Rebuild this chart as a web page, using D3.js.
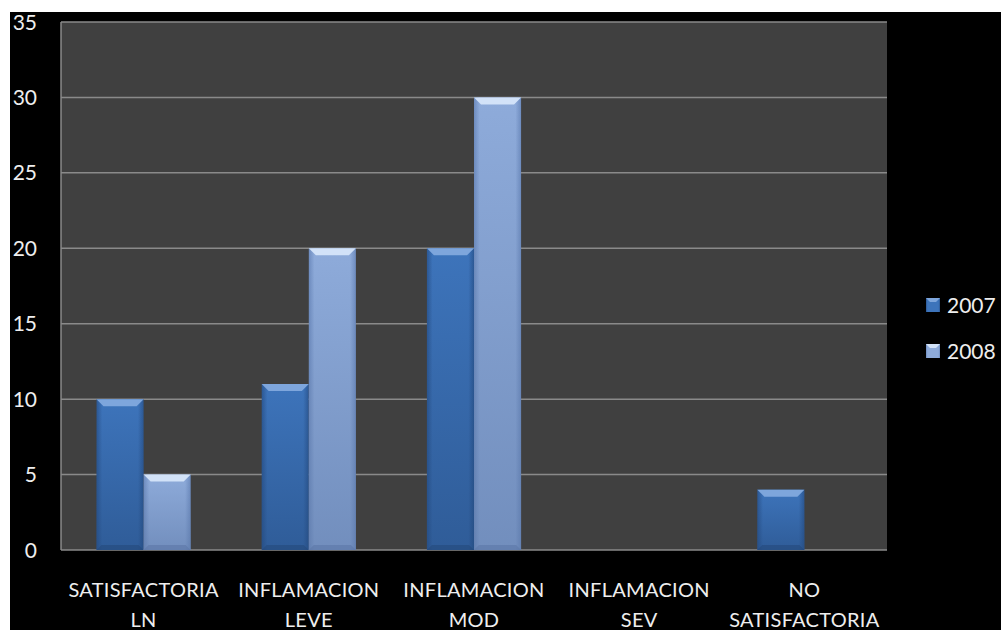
<!DOCTYPE html>
<html>
<head>
<meta charset="utf-8">
<script src="https://cdn.jsdelivr.net/npm/d3@7"></script>
<style>
  html, body { margin: 0; padding: 0; background: #ffffff; overflow: hidden; }
  svg { display: block; }
</style>
</head>
<body>
<div id="chart"></div>
<script>
// data
var categories = [["SATISFACTORIA", "LN"], ["INFLAMACION", "LEVE"], ["INFLAMACION", "MOD"], ["INFLAMACION", "SEV"], ["NO", "SATISFACTORIA"]];
var seriesNames = ["2007", "2008"];
var values2007 = [10, 11, 20, 0, 4];
var values2008 = [5, 20, 30, 0, 0];
var yTicks = [0, 5, 10, 15, 20, 25, 30, 35];

var width = 1001, height = 630;
var plot = {left: 61, right: 887, top: 22, bottom: 550};

var svg = d3.select("#chart").append("svg")
    .attr("width", width)
    .attr("height", height);

// gradients for the bevelled bars
var defs = svg.append("defs");
var looks = [
  {id: "g2007", edge: "#2c5894", mid: "#3d74bb", top: "#7ea6dc", dark: "#24497c"},
  {id: "g2008", edge: "#6e8cbf", mid: "#8eabda", top: "#d2e2f8", dark: "#5b77a6"}
];
looks.forEach(function(l) {
  var g = defs.append("linearGradient").attr("id", l.id)
      .attr("x1", 0).attr("x2", 1).attr("y1", 0).attr("y2", 0);
  g.append("stop").attr("offset", "0%").attr("stop-color", l.edge);
  g.append("stop").attr("offset", "12%").attr("stop-color", l.mid);
  g.append("stop").attr("offset", "88%").attr("stop-color", l.mid);
  g.append("stop").attr("offset", "100%").attr("stop-color", l.edge);
  var v = defs.append("linearGradient").attr("id", l.id + "v")
      .attr("x1", 0).attr("x2", 0).attr("y1", 0).attr("y2", 1);
  v.append("stop").attr("offset", "0%").attr("stop-color", l.dark).attr("stop-opacity", 0);
  v.append("stop").attr("offset", "100%").attr("stop-color", l.dark).attr("stop-opacity", 0.55);
});

// black backdrop, white strip at top and left
svg.append("rect").attr("x", 10).attr("y", 12)
    .attr("width", width - 10).attr("height", height - 12)
    .attr("fill", "#000000");

var x0 = d3.scaleBand()
    .domain(d3.range(categories.length))
    .range([plot.left, plot.right])
    .paddingInner(0.43).paddingOuter(0.215);
var x1 = d3.scaleBand()
    .domain(seriesNames)
    .range([0, x0.bandwidth()]);
var y = d3.scaleLinear()
    .domain([0, 35])
    .range([plot.bottom, plot.top]);

svg.append("rect")
    .attr("x", plot.left).attr("y", plot.top)
    .attr("width", plot.right - plot.left).attr("height", plot.bottom - plot.top)
    .attr("fill", "#404040");

// gridlines
svg.append("g").selectAll("line")
    .data(yTicks)
    .enter().append("line")
    .attr("x1", plot.left).attr("x2", plot.right)
    .attr("y1", function(d) { return y(d); })
    .attr("y2", function(d) { return y(d); })
    .attr("stroke", "#8a8a8a")
    .attr("stroke-width", 1.5);
svg.append("line")
    .attr("x1", plot.left).attr("x2", plot.left)
    .attr("y1", plot.top).attr("y2", plot.bottom)
    .attr("stroke", "#8a8a8a").attr("stroke-width", 1.5);

// y tick labels
svg.append("g").selectAll("text")
    .data(yTicks)
    .enter().append("text")
    .attr("x", 37)
    .attr("y", function(d) { return y(d); })
    .attr("dy", "0.36em")
    .attr("text-anchor", "end")
    .style("font", "21px Lato, 'Open Sans', sans-serif")
    .style("fill", "#eeeeee")
    .text(function(d) { return d; });

// bars
var rows = [];
categories.forEach(function(c, i) {
  rows.push({cat: i, s: "2007", v: values2007[i], look: looks[0]});
  rows.push({cat: i, s: "2008", v: values2008[i], look: looks[1]});
});

var bars = svg.append("g").selectAll("g")
    .data(rows.filter(function(d) { return d.v > 0; }))
    .enter().append("g");

bars.append("rect")
    .attr("x", function(d) { return x0(d.cat) + x1(d.s); })
    .attr("y", function(d) { return y(d.v); })
    .attr("width", x1.bandwidth())
    .attr("height", function(d) { return y(0) - y(d.v); })
    .attr("fill", function(d) { return "url(#" + d.look.id + ")"; });
bars.append("rect")
    .attr("x", function(d) { return x0(d.cat) + x1(d.s); })
    .attr("y", function(d) { return y(d.v); })
    .attr("width", x1.bandwidth())
    .attr("height", function(d) { return y(0) - y(d.v); })
    .attr("fill", function(d) { return "url(#" + d.look.id + "v)"; });
// bevelled top
bars.append("polygon")
    .attr("points", function(d) {
      var a = x0(d.cat) + x1(d.s), b = a + x1.bandwidth(), t = y(d.v), k = 7;
      return [[a, t], [b, t], [b - k, t + k], [a + k, t + k]].join(" ");
    })
    .attr("fill", function(d) { return d.look.top; });
// bevelled bottom
bars.append("polygon")
    .attr("points", function(d) {
      var a = x0(d.cat) + x1(d.s), b = a + x1.bandwidth(), t = y(0), k = 5;
      return [[a, t], [b, t], [b - k, t - k], [a + k, t - k]].join(" ");
    })
    .attr("fill", function(d) { return d.look.dark; })
    .attr("opacity", 0.6);

// category labels
var cat = svg.append("g").selectAll("text")
    .data(categories)
    .enter().append("text")
    .attr("x", function(d, i) { return x0(i) + x0.bandwidth() / 2; })
    .attr("y", 597)
    .attr("text-anchor", "middle")
    .style("font", "20px Lato, 'Open Sans', sans-serif")
    .style("letter-spacing", "0.3px")
    .style("fill", "#eeeeee");
cat.selectAll("tspan")
    .data(function(d) { return d; })
    .enter().append("tspan")
    .attr("x", function() { return d3.select(this.parentNode).attr("x"); })
    .attr("dy", function(d, i) { return i ? 30 : 0; })
    .text(function(d) { return d; });

// legend
var legend = svg.append("g").selectAll("g")
    .data(seriesNames)
    .enter().append("g")
    .attr("transform", function(d, i) { return "translate(926," + (298 + i * 46) + ")"; });
legend.append("rect")
    .attr("width", 14).attr("height", 14)
    .attr("fill", function(d, i) { return "url(#" + looks[i].id + ")"; });
legend.append("polygon")
    .attr("points", "0,0 14,0 10,4 4,4")
    .attr("fill", function(d, i) { return looks[i].top; });
legend.append("text")
    .attr("x", 21).attr("y", 7).attr("dy", "0.36em")
    .style("font", "21px Lato, 'Open Sans', sans-serif")
    .style("fill", "#eeeeee")
    .text(function(d) { return d; });
</script>
</body>
</html>
